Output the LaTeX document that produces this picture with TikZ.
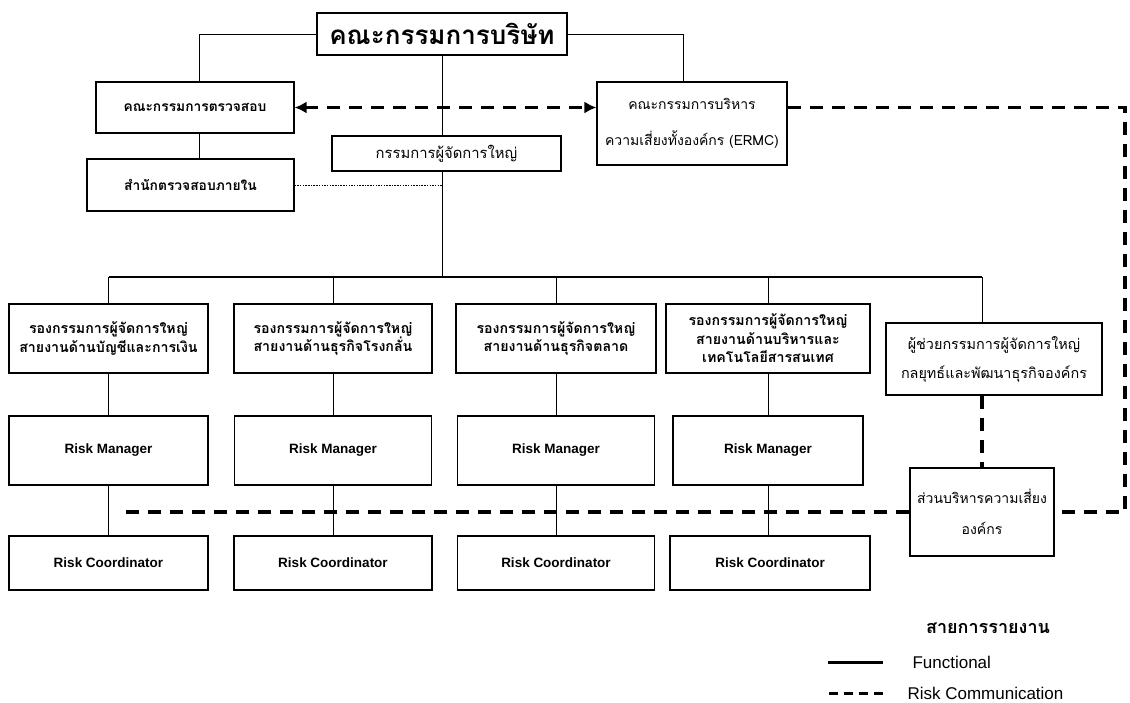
\documentclass[tikz,border=0pt]{standalone}
\usepackage{fontspec}
\setmainfont{Liberation Sans}
\newfontfamily\thaifont[Script=Thai]{Loma}
\usetikzlibrary{arrows.meta, positioning, calc}

\begin{document}
\begin{tikzpicture}[x=1pt, y=-1pt,
  unit/.style={draw, fill=white, line width=1.1pt, align=center, inner sep=1pt},
  thai/.style={font=\thaifont\fontsize{14.8}{19}\selectfont},
  thaibold/.style={font=\thaifont\bfseries\fontsize{14.2}{18.5}\selectfont},
  eng/.style={font=\bfseries\fontsize{13.5}{16}\selectfont},
  link/.style={line width=0.9pt},
  trunk/.style={line width=1.8pt},
  riskline/.style={line width=3.5pt, dash pattern=on 13pt off 9pt},
  tip/.style={arrows={Latex[length=12pt,width=12pt]-Latex[length=12pt,width=12pt]}}
]
\useasboundingbox (0,0) rectangle (1130,702);

% Board and committees
\node[unit, font=\thaifont\bfseries\fontsize{26}{30}\selectfont, minimum width=250pt, minimum height=42pt] (board) at (442,34) {คณะกรรมการบริษัท};
\node[unit, font=\thaifont\bfseries\fontsize{13.8}{18}\selectfont, minimum width=198pt, minimum height=51pt] (audit) at (195,107.5) {คณะกรรมการตรวจสอบ};
\node[unit, font=\thaifont\bfseries\fontsize{13.8}{18}\selectfont, minimum width=207pt, minimum height=52pt] (intaudit) at (190.5,185) {สำนักตรวจสอบภายใน};
\node[unit, font=\thaifont\fontsize{14}{36}\selectfont, minimum width=190pt, minimum height=83pt] (ermc) at (692,123.5) {คณะกรรมการบริหาร\\ความเสี่ยงทั้งองค์กร (ERMC)};
\node[unit, thai, minimum width=229pt, minimum height=35pt] (gm) at (446.5,153.5) {กรรมการผู้จัดการใหญ่};
\coordinate (bus) at (442,277);

% Vice presidents
\node[unit, thaibold, minimum width=199pt, minimum height=69pt] (vp1) at (108.5,338.5) {รองกรรมการผู้จัดการใหญ่\\สายงานด้านบัญชีและการเงิน};
\node[unit, thaibold, minimum width=198pt, minimum height=69pt] (vp2) at (333,338.5) {รองกรรมการผู้จัดการใหญ่\\สายงานด้านธุรกิจโรงกลั่น};
\node[unit, thaibold, minimum width=200pt, minimum height=69pt] (vp3) at (556,338.5) {รองกรรมการผู้จัดการใหญ่\\สายงานด้านธุรกิจตลาด};
\node[unit, thaibold, minimum width=204pt, minimum height=69pt] (vp4) at (768,338.5) {รองกรรมการผู้จัดการใหญ่\\สายงานด้านบริหารและ\\เทคโนโลยีสารสนเทศ};
\node[unit, font=\thaifont\fontsize{14.4}{29}\selectfont, minimum width=216pt, minimum height=72pt] (asst) at (994,359) {ผู้ช่วยกรรมการผู้จัดการใหญ่\\กลยุทธ์และพัฒนาธุรกิจองค์กร};

% Risk managers
\node[unit, eng, minimum width=199pt, minimum height=69pt] (rm1) at (108.5,450.5) {Risk Manager};
\node[unit, eng, minimum width=197pt, minimum height=69pt] (rm2) at (333,450.5) {Risk Manager};
\node[unit, eng, minimum width=197pt, minimum height=69pt] (rm3) at (556,450.5) {Risk Manager};
\node[unit, eng, minimum width=190pt, minimum height=69pt] (rm4) at (768,450.5) {Risk Manager};

% Risk coordinators
\node[unit, eng, minimum width=199pt, minimum height=54pt] (rc1) at (108.5,563) {Risk Coordinator};
\node[unit, eng, minimum width=198pt, minimum height=54pt] (rc2) at (333,563) {Risk Coordinator};
\node[unit, eng, minimum width=197pt, minimum height=54pt] (rc3) at (556,563) {Risk Coordinator};
\node[unit, eng, minimum width=200pt, minimum height=54pt] (rc4) at (770,563) {Risk Coordinator};
\node[unit, font=\thaifont\fontsize{14}{31}\selectfont, minimum width=144pt, minimum height=88pt] (erm) at (982,512) {ส่วนบริหารความเสี่ยง\\องค์กร};

% Functional lines
\draw[link] (board.west) -| ([xshift=4pt]audit.north);
\draw[link] (board.east) -| ([xshift=-9pt]ermc.north);
\draw[link] ([xshift=4pt]audit.south) -- ([xshift=4pt]audit.south |- intaudit.north);
\draw[link] (board.south) -- (board.south |- gm.north);
\draw[link] (board.south |- gm.south) -- (bus);
\draw[trunk] (vp1.north |- bus) -- (erm.north |- bus);
\draw[link] (erm.north |- bus) -- (erm.north |- asst.north);
\foreach \c in {1,...,4} {
  \draw[link] (vp\c.north |- bus) -- (vp\c);
  \draw[link] (vp\c) -- (vp\c |- rm\c.north);
  \draw[link] (vp\c |- rm\c.south) -- (vp\c |- rc\c.north);
}
\draw[link, dash pattern=on 1.5pt off 1.2pt] (intaudit.east) -- (intaudit.east -| bus);

% Risk communication
\coordinate (edge) at (1125,512);
\coordinate (riskend) at (118,512);
\draw[riskline, tip] (audit.east) -- (audit.east -| ermc.west);
\draw[riskline] (ermc.east |- audit.east) -| (edge) -- (erm.east);
\draw[riskline] (erm.west) -- (riskend);
\draw[riskline] (asst.south -| erm.north) -- (erm.north);

% Legend
\node[font=\thaifont\bfseries\fontsize{18}{20}\selectfont] (legtitle) at (988,628) {สายการรายงาน};
\node[anchor=west, font=\fontsize{17}{20}\selectfont] (legfunc) at (909,662) {Functional};
\node[anchor=west, font=\fontsize{17}{20}\selectfont] (legrisk) at (904,693) {Risk Communication};
\draw[line width=3pt] ([xshift=-26pt]legfunc.west) -- ++(-55,0);
\draw[line width=3pt, dash pattern=on 9pt off 6pt] ([xshift=-21pt]legrisk.west) -- ++(-55,0);
\end{tikzpicture}
\end{document}
